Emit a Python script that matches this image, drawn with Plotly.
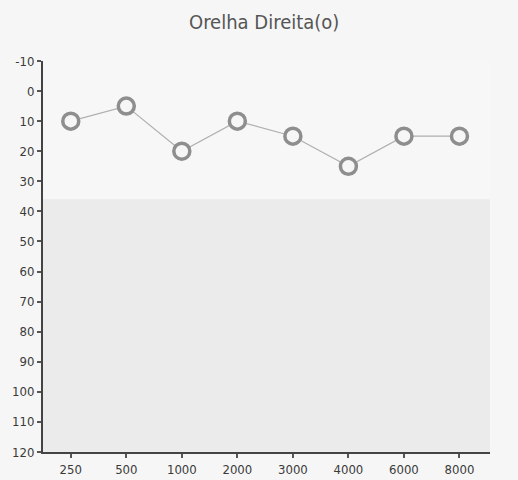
import plotly.graph_objects as go

freqs = ["250", "500", "1000", "2000", "3000", "4000", "6000", "8000"]
thresholds = [10, 5, 20, 10, 15, 25, 15, 15]
y_ticks = [-10, 0, 10, 20, 30, 40, 50, 60, 70, 80, 90, 100, 110, 120]
y_tick_labels = ["-10", "0", "10", "20", "30", "40", "50", "60", "70", "80", "90", "100", "110", "120"]
title_text = "Orelha Direita(o)"

FONT = "Liberation Sans Narrow, DejaVu Sans Condensed, Roboto, sans-serif"

fig = go.Figure()
fig.add_trace(go.Scatter(
    x=list(range(len(freqs))), y=thresholds, mode="lines+markers",
    line=dict(color="#b0b0b0", width=1.2),
    marker=dict(symbol="circle", size=16, color="rgba(246,246,246,1)",
                line=dict(color="#8e8e8e", width=3.5)),
    showlegend=False, hoverinfo="skip",
))

fig.add_shape(type="rect", xref="x domain", yref="y", x0=0, x1=1, y0=36, y1=120,
              fillcolor="#ebebeb", line=dict(width=0), layer="below")

fig.update_layout(
    width=518, height=480,
    margin=dict(l=43, r=28, t=61, b=28, autoexpand=False),
    paper_bgcolor="#f6f6f6", plot_bgcolor="#f7f7f7",
    title=dict(text=title_text, x=0.51, xanchor="center", y=0.955, yanchor="middle",
               font=dict(family=FONT, size=20, color="#555555")),
    font=dict(family=FONT, size=13, color="#3a3a3a"),
)
fig.update_xaxes(
    range=[-0.5, 7.55], tickmode="array", tickvals=list(range(len(freqs))), ticktext=freqs,
    showgrid=False, zeroline=False, showline=True, linecolor="#444444", linewidth=2,
    ticks="outside", ticklen=4, tickwidth=1.5, tickcolor="#555555", automargin=False,
)
fig.update_yaxes(
    range=[120, -10], tickmode="array", tickvals=y_ticks, ticktext=y_tick_labels,
    showgrid=False, zeroline=False, showline=True, linecolor="#444444", linewidth=2,
    ticks="outside", ticklen=4, tickwidth=1.5, tickcolor="#555555", automargin=False,
)

fig.write_html("out.html", config={"displayModeBar": False},
               post_script="document.body.style.margin='0';")
